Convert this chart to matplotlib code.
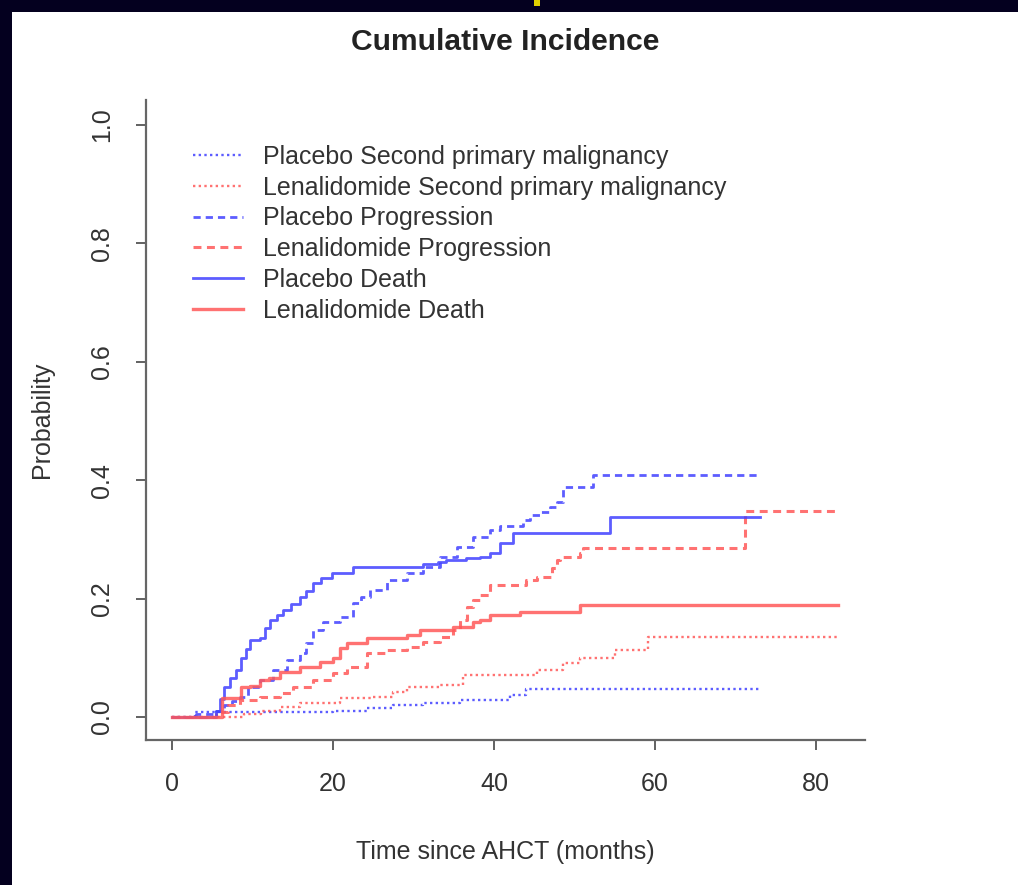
import matplotlib
matplotlib.use("Agg")
import matplotlib.pyplot as plt
from matplotlib.patches import Rectangle

plt.rcParams['font.family'] = ['Liberation Sans', 'DejaVu Sans']

# step data (months, cumulative probability)
pspm_t = [0, 2.9, 9.7, 20.0, 24.2, 27.5, 31.2, 35.8, 42.0, 44.0, 73.0]
pspm_p = [0, 0.008, 0.008, 0.010, 0.015, 0.020, 0.023, 0.029, 0.037, 0.047, 0.047]

lspm_t = [0, 9.0, 11.0, 13.4, 15.9, 20.9, 25.0, 27.5, 29.2, 33.3, 36.1, 45.3, 48.6, 50.7, 55.0, 59.1, 82.7]
lspm_p = [0, 0.005, 0.010, 0.017, 0.023, 0.032, 0.034, 0.042, 0.051, 0.054, 0.070, 0.079, 0.091, 0.100, 0.113, 0.135, 0.135]

pprog_t = [0, 3.0, 5.5, 6.5, 7.5, 8.4, 9.5, 10.9, 12.6, 14.3, 15.9, 16.7, 17.5, 18.8, 20.9, 22.5, 23.5,
           24.6, 26.7, 29.2, 31.2, 33.3, 35.4, 37.4, 39.5, 40.7, 43.6, 44.5, 45.7, 47.0, 47.8, 48.6, 52.3, 73.0]
pprog_p = [0, 0.005, 0.010, 0.020, 0.027, 0.034, 0.050, 0.062, 0.079, 0.096, 0.108, 0.125, 0.147, 0.160,
           0.169, 0.192, 0.203, 0.215, 0.231, 0.243, 0.254, 0.270, 0.287, 0.304, 0.316, 0.323, 0.333,
           0.341, 0.346, 0.355, 0.363, 0.389, 0.409, 0.409]

lprog_t = [0, 5.5, 7.0, 8.4, 10.9, 13.4, 15.0, 17.5, 20.0, 21.7, 24.2, 26.7, 29.2, 31.2, 33.3, 34.9, 35.8,
           36.6, 37.4, 38.3, 39.5, 44.0, 45.3, 47.2, 47.8, 48.2, 50.7, 51.1, 71.2, 82.4]
lprog_p = [0, 0.008, 0.020, 0.029, 0.034, 0.040, 0.051, 0.062, 0.074, 0.085, 0.108, 0.113, 0.118, 0.127,
           0.135, 0.147, 0.164, 0.186, 0.198, 0.206, 0.223, 0.231, 0.237, 0.252, 0.265, 0.270, 0.277,
           0.285, 0.348, 0.348]

pdeath_t = [0, 5.5, 6.0, 6.5, 7.2, 8.0, 8.6, 9.2, 9.7, 10.9, 11.5, 12.2, 13.0, 13.8, 14.8, 15.9, 16.7,
            17.5, 18.5, 19.9, 22.5, 31.2, 33.0, 34.0, 36.5, 38.3, 39.5, 40.7, 42.4, 54.4, 73.0]
pdeath_p = [0, 0.010, 0.030, 0.050, 0.065, 0.080, 0.100, 0.115, 0.130, 0.133, 0.150, 0.164, 0.172, 0.180,
            0.190, 0.203, 0.213, 0.226, 0.235, 0.243, 0.254, 0.258, 0.262, 0.265, 0.268, 0.270, 0.277,
            0.293, 0.310, 0.337, 0.337]

ldeath_t = [0, 6.2, 8.6, 9.7, 10.9, 12.0, 13.4, 15.9, 18.4, 20.0, 20.9, 21.7, 24.2, 29.2, 30.8, 34.9,
            37.4, 38.3, 39.5, 43.2, 50.7, 82.7]
ldeath_p = [0, 0.032, 0.050, 0.052, 0.062, 0.065, 0.076, 0.085, 0.093, 0.100, 0.117, 0.125, 0.133, 0.139,
            0.147, 0.152, 0.160, 0.164, 0.172, 0.177, 0.189, 0.189]

labels = ["Placebo Second primary malignancy", "Lenalidomide Second primary malignancy",
          "Placebo Progression", "Lenalidomide Progression", "Placebo Death", "Lenalidomide Death"]

xticks = [0, 20, 40, 60, 80]
yticks = [0.0, 0.2, 0.4, 0.6, 0.8, 1.0]

blue = (0.25, 0.25, 1.0)
red = (1.0, 0.35, 0.35)
dotted = (1.0, 1.4)
dashed = (2.6, 1.8)

fig = plt.figure(figsize=(10.18, 8.85), dpi=100, facecolor='white')
# dark slide border on the left and top
fig.patches.append(Rectangle((0, 0), 12 / 1018, 1, transform=fig.transFigure,
                             facecolor='#04001f', edgecolor='none', zorder=-5))
fig.patches.append(Rectangle((0, 1 - 12 / 885), 1, 12 / 885, transform=fig.transFigure,
                             facecolor='#04001f', edgecolor='none', zorder=-5))
fig.patches.append(Rectangle((534 / 1018, 1 - 6 / 885), 6 / 1018, 6 / 885, transform=fig.transFigure,
                             facecolor='#e0d000', edgecolor='none', zorder=-4))

ax = fig.add_axes([146 / 1018, 145 / 885, 719 / 1018, 640 / 885])
ax.patch.set_alpha(0)

series = [(pspm_t, pspm_p, blue, dotted, 1.7),
          (lspm_t, lspm_p, red, dotted, 1.7),
          (pprog_t, pprog_p, blue, dashed, 2.0),
          (lprog_t, lprog_p, red, dashed, 2.2),
          (pdeath_t, pdeath_p, blue, None, 2.0),
          (ldeath_t, ldeath_p, red, None, 2.4)]

for (t, p, c, d, lw), lab in zip(series, labels):
    line, = ax.step(t, p, where='post', color=c, lw=lw, alpha=0.85, label=lab)
    if d is not None:
        line.set_dashes(d)

ax.set_xlim(-3.23, 86.1)
ax.set_ylim(-0.039, 1.042)
ax.set_xticks(xticks)
ax.set_yticks(yticks)
ax.set_xticklabels([str(v) for v in xticks])
ax.set_yticklabels(["%.1f" % v for v in yticks], rotation=90, va='center')
ax.tick_params(direction='out', length=7, width=1.3, colors='#555555', labelcolor='#333333',
               labelsize=18)
ax.tick_params(axis='x', pad=16)
ax.tick_params(axis='y', pad=16)

for s in ['top', 'right']:
    ax.spines[s].set_visible(False)
for s in ['left', 'bottom']:
    ax.spines[s].set_color('#666666')
    ax.spines[s].set_linewidth(1.6)

ax.set_xlabel("Time since AHCT (months)", fontsize=18, color='#333333', labelpad=32)
ax.set_ylabel("Probability", fontsize=18, color='#333333', labelpad=26)
fig.text(505 / 1018, 1 - 42 / 885, "Cumulative Incidence", fontsize=21.6, fontweight='bold',
         color='#222222', ha='center', va='center')

leg = ax.legend(loc='upper left', bbox_to_anchor=(193 / 1018, 1 - 145 / 885),
                bbox_transform=fig.transFigure, frameon=False, fontsize=18, borderpad=0,
                borderaxespad=0, handlelength=2.0, handletextpad=0.8, labelspacing=0.27)
for txt in leg.get_texts():
    txt.set_color('#333333')

fig.savefig("out.png", dpi=100, facecolor=fig.get_facecolor())
